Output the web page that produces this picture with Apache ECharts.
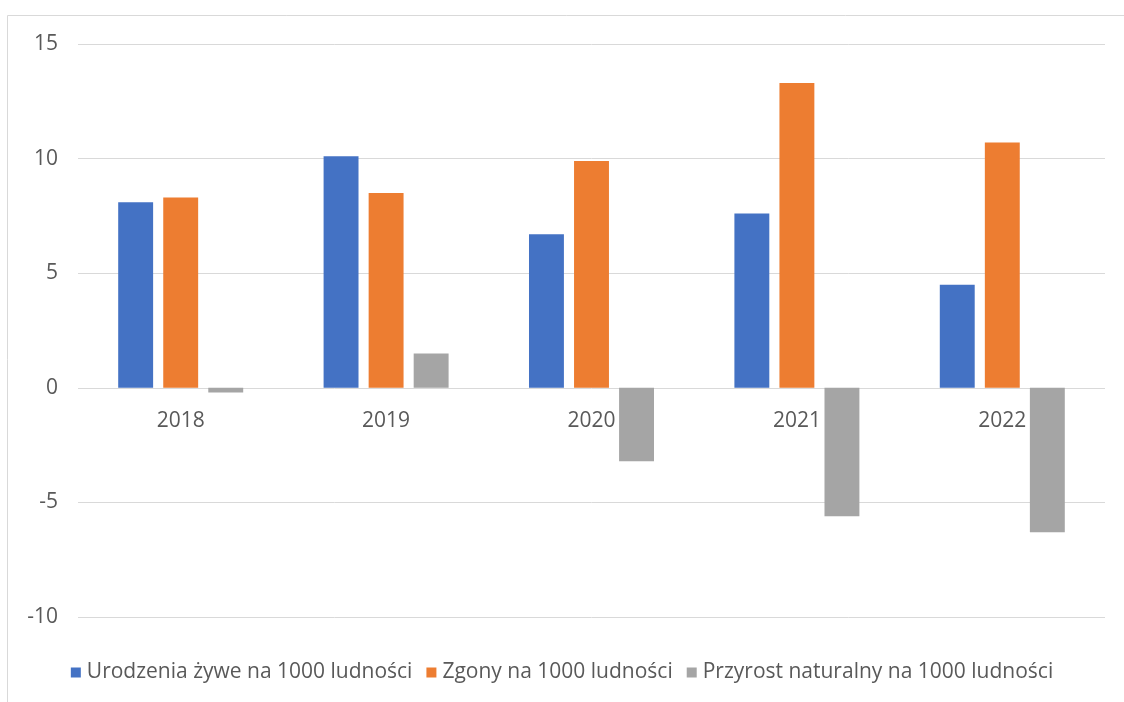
<!DOCTYPE html>
<html>
<head>
<meta charset="utf-8">
<script src="https://cdn.jsdelivr.net/npm/echarts@6/dist/echarts.min.js"></script>
<style>
  html, body { margin: 0; padding: 0; background: #ffffff; }
  #chart { width: 1124px; height: 702px; }
</style>
</head>
<body>
<div id="chart"></div>
<script>
  // dane
  var years = ['2018', '2019', '2020', '2021', '2022'];
  var urodzenia = [8.1, 10.1, 6.7, 7.6, 4.5];
  var zgony = [8.3, 8.5, 9.9, 13.3, 10.7];
  var przyrost = [-0.2, 1.5, -3.2, -5.6, -6.3];
  var seriesNames = ['Urodzenia żywe na 1000 ludności', 'Zgony na 1000 ludności', 'Przyrost naturalny na 1000 ludności'];
  var colors = ['#4472C4', '#ED7D31', '#A5A5A5'];

  var myChart = echarts.init(document.getElementById('chart'));

  var font = 'Open Sans';

  myChart.setOption({
    animation: false,
    color: colors,
    graphic: [{
      type: 'rect',
      shape: {x: 7.5, y: 15.5, width: 1130, height: 700},
      style: {fill: 'none', stroke: '#d9d9d9', lineWidth: 1},
      silent: true
    }],
    legend: {
      data: seriesNames,
      bottom: 14,
      left: 'center',
      itemWidth: 10,
      itemHeight: 10,
      itemGap: 14,
      icon: 'rect',
      textStyle: {fontFamily: font, fontSize: 21, color: '#595959', padding: [0, 0, 0, 1]}
    },
    grid: {left: 78, right: 19, top: 44, bottom: 85},
    xAxis: {
      type: 'category',
      data: years,
      offset: -229,
      axisTick: {show: false},
      axisLine: {show: false},
      axisLabel: {fontFamily: font, fontSize: 21, color: '#595959', margin: 23}
    },
    yAxis: {
      type: 'value',
      min: -10,
      max: 15,
      interval: 5,
      axisLine: {show: false},
      axisTick: {show: false},
      splitLine: {lineStyle: {color: '#d9d9d9'}},
      axisLabel: {fontFamily: font, fontSize: 21, color: '#595959', margin: 20}
    },
    series: [
      {name: seriesNames[0], type: 'bar', data: urodzenia, barWidth: '17%', barGap: '29%'},
      {name: seriesNames[1], type: 'bar', data: zgony, barWidth: '17%', barGap: '29%'},
      {name: seriesNames[2], type: 'bar', data: przyrost, barWidth: '17%', barGap: '29%'}
    ]
  });
</script>
</body>
</html>
